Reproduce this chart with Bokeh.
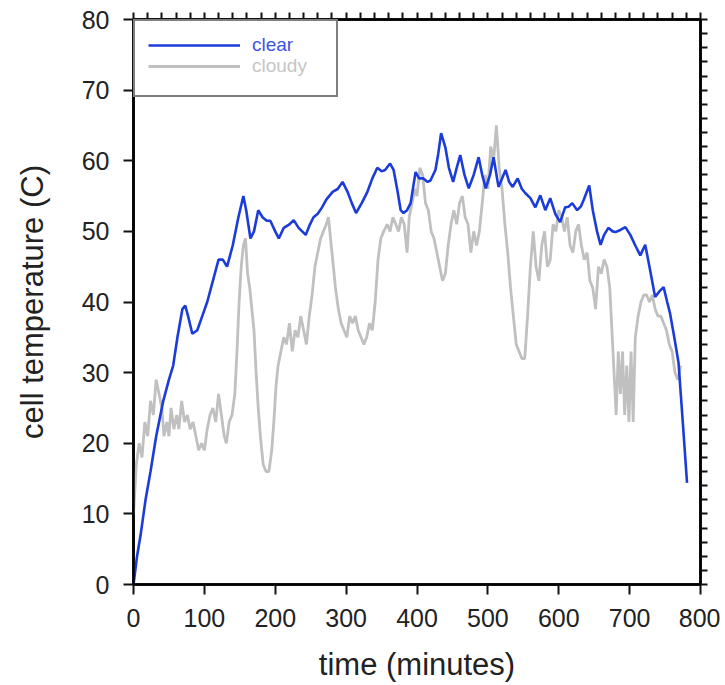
from bokeh.plotting import figure
from bokeh.models import Legend, LegendItem, Range1d, FixedTicker, LinearAxis
from bokeh.embed import file_html
from bokeh.resources import INLINE

# ---- data ----
clear_time = [0, 5, 10, 17, 24, 32, 42, 50, 56, 62, 69, 73, 77, 83, 90, 97, 104, 112, 120, 126,
              132, 140, 148, 155, 159, 165, 170, 176, 182, 188, 193, 200, 205, 212, 220, 226, 233,
              243, 249, 254, 260, 266, 272, 281, 288, 295, 302, 308, 314, 322, 330, 337, 344, 350,
              355, 362, 367, 372, 377, 381, 386, 391, 398, 403, 409, 415, 419, 426, 430, 434, 440,
              445, 451, 456, 461, 467, 473, 480, 487, 492, 497, 503, 508, 515, 520, 525, 530, 535,
              542, 548, 553, 560, 567, 574, 581, 588, 595, 602, 609, 614, 619, 626, 631, 635, 643,
              648, 654, 659, 664, 670, 676, 680, 687, 694, 701, 708, 715, 722, 728, 736, 742, 748,
              753, 757, 763, 769, 775, 781]
clear_temp = [0, 4, 7, 12, 16, 21, 26, 29, 31, 35, 39, 39.5, 38, 35.5, 36, 38, 40, 43, 46, 46,
              45, 48, 52, 55, 53, 49, 50, 53, 52, 51.5, 51.5, 50, 49, 50.5, 51, 51.6, 50.5,
              49.5, 51, 52, 52.5, 53.4, 54.5, 55.6, 56, 57, 55.6, 54, 52.6, 54, 55.6, 57.5, 59, 58.5,
              58.7, 59.6, 58.7, 56, 53, 52.6, 53, 54, 58.4, 57.5, 57.5, 57, 57.2, 58.7, 61, 63.9, 61.9,
              59, 57, 59, 60.8, 58, 56.1, 58, 60.5, 58, 56.1, 58, 60.5, 56.3, 57.5, 58.7, 57, 56.3,
              57.5, 56, 55.4, 54.7, 53.4, 55.1, 53, 54.7, 52.5, 51.3, 53.4, 53.5, 54, 53, 53.5, 54.4, 56.5,
              53, 50, 48.1, 49.5, 50.5, 50, 49.9, 50.2, 50.6, 49.5, 48, 46.6, 48.1, 45, 40.7, 41.5, 42.1,
              40, 38.4, 35, 31.4, 23, 14.4]

cloudy_time = [0, 4, 8, 12, 16, 20, 24, 28, 32, 36, 40, 43, 47, 50, 53, 57, 61, 64, 68, 72, 76, 80,
               84, 88, 92, 96, 100, 104, 108, 112, 116, 120, 124, 128, 131, 135, 139, 143, 146, 149,
               152, 155, 158, 161, 164, 167, 170, 173, 176, 179, 183, 187, 191, 195, 198, 201, 204,
               208, 212, 216, 220, 224, 228, 232, 236, 240, 244, 248, 252, 256, 260, 264, 268, 272,
               275, 278, 281, 285, 289, 293, 297, 301, 305, 309, 313, 317, 321, 325, 329, 333, 337,
               341, 345, 349, 353, 358, 362, 366, 370, 374, 378, 382, 386, 389, 393, 397, 400, 404,
               408, 412, 416, 420, 424, 428, 432, 436, 440, 444, 448, 452, 456, 460, 464, 468, 472,
               476, 480, 484, 488, 492, 496, 500, 504, 508, 512, 516, 520, 524, 528, 532, 536, 540,
               544, 548, 552, 556, 560, 564, 568, 572, 576, 580, 584, 588, 592, 596, 600, 604, 608,
               612, 616, 620, 624, 628, 632, 636, 640, 644, 648, 652, 656, 660, 664, 668, 672, 675,
               678, 681, 684, 687, 690, 693, 696, 699, 702, 705, 708, 712, 716, 720, 724, 728, 732,
               736, 740, 744, 748, 752, 756, 760, 764, 768, 772]
cloudy_temp = [10, 17, 20, 18, 23, 21, 26, 24, 29, 27, 25, 21, 23, 21, 25, 22, 24, 22, 26, 23, 24, 22,
               23, 21, 19, 20, 19, 22, 24, 25, 23, 27, 24, 21, 20, 23, 24, 27, 33, 40,
               45, 48, 49, 44, 42, 39, 36, 30, 25, 21, 17, 16, 16, 19, 23, 28, 31,
               33, 35, 34, 37, 33, 36, 35, 38, 36, 34, 38, 41, 45, 47, 49, 50, 51,
               52, 49, 46, 42, 39, 37, 36, 35, 38, 37, 38, 36, 35, 34, 35, 37, 36,
               40, 46, 49, 50, 51, 50, 52, 51, 50, 52, 51, 47, 52, 54, 56, 55, 59,
               58, 54, 53, 50, 49, 47, 45, 43, 44, 48, 51, 53, 51, 54, 55, 52, 51,
               47, 50, 48, 50, 54, 58, 56, 62, 60, 65, 59, 56, 51, 47, 42, 38, 34,
               33, 32, 32, 38, 45, 50, 45, 43, 48, 50, 45, 46, 51, 50, 53, 52, 50,
               52, 48, 47, 50, 51, 48, 46, 47, 43, 42, 39, 45, 44, 46, 45, 42, 36,
               30, 24, 33, 27, 33, 24, 31, 23, 33, 23, 35, 38, 40, 41, 41, 40, 41,
               39, 38, 38, 37, 36, 34, 33, 30, 29, 31]

x_ticks = [0, 100, 200, 300, 400, 500, 600, 700, 800]
y_ticks = [0, 10, 20, 30, 40, 50, 60, 70, 80]

BLUE = "#1c3cd9"
GRAY = "#c0c0c0"
FONT = "Liberation Sans"
TXT = "#222222"
TICK = "#111111"

W, H = 720, 684
BL, BR, BT, BB = 133, 20, 19, 99
FW, FH = W - BL - BR, H - BT - BB          # frame size in px
XMIN, XMAX = x_ticks[0], x_ticks[-1]
YMIN, YMAX = y_ticks[0], y_ticks[-1]

p = figure(width=W, height=H, output_backend="svg", toolbar_location=None,
           x_range=Range1d(XMIN, XMAX), y_range=Range1d(YMIN, YMAX),
           min_border_left=BL, min_border_right=BR, min_border_top=BT, min_border_bottom=BB)
p.grid.visible = False
p.outline_line_color = "black"
p.outline_line_width = 2.5


def minors(ticks, n=5):
    out = []
    for a, b in zip(ticks[:-1], ticks[1:]):
        out += [a + (b - a) * k / n for k in range(1, n)]
    return out


MAJ, MIN = 10, 5

r_cloudy = p.line(cloudy_time, cloudy_temp, line_color=GRAY, line_width=2.8)
r_clear = p.line(clear_time, clear_temp, line_color=BLUE, line_width=2.6)

# ---- labelled axes (bottom, left) ----
p.xaxis.ticker = FixedTicker(ticks=x_ticks, num_minor_ticks=5)
p.yaxis.ticker = FixedTicker(ticks=y_ticks, num_minor_ticks=5)
for ax in (p.xaxis[0], p.yaxis[0]):
    ax.axis_line_color = "black"
    ax.axis_line_width = 2.5
    ax.major_tick_line_color = TICK
    ax.minor_tick_line_color = TICK
    ax.major_tick_line_width = 2
    ax.minor_tick_line_width = 2
    ax.major_tick_in = 0
    ax.major_tick_out = MAJ
    ax.minor_tick_in = 0
    ax.minor_tick_out = MIN
    ax.major_label_text_font = FONT
    ax.major_label_text_font_size = "25px"
    ax.major_label_text_color = TXT
    ax.axis_label_text_font = FONT
    ax.axis_label_text_font_size = "31px"
    ax.axis_label_text_font_style = "normal"
    ax.axis_label_text_color = TXT
p.xaxis.axis_label = "time (minutes)"
p.yaxis.axis_label = "cell temperature (C)"
p.xaxis.major_label_standoff = 24 - MAJ
p.yaxis.major_label_standoff = 24 - MAJ
p.xaxis.axis_label_standoff = 17
p.yaxis.axis_label_standoff = 29

# ---- mirrored tick marks on top and right (no labels) ----
ax_top = LinearAxis(ticker=FixedTicker(ticks=[], minor_ticks=x_ticks + minors(x_ticks)))
ax_right = LinearAxis(ticker=FixedTicker(ticks=[], minor_ticks=y_ticks + minors(y_ticks)))
for ax in (ax_top, ax_right):
    ax.axis_line_color = "black"
    ax.axis_line_width = 2.5
    ax.major_tick_in = 0
    ax.major_tick_out = 0
    ax.minor_tick_in = 0
    ax.minor_tick_out = 7
    ax.minor_tick_line_color = TICK
    ax.minor_tick_line_width = 2
    ax.major_label_standoff = 0
p.add_layout(ax_top, "above")
p.add_layout(ax_right, "right")

# ---- legend (box + per-item coloured labels) ----
P = 15
R = 22
common = dict(padding=P, spacing=0, glyph_width=92, glyph_height=R, label_height=R,
              label_width=67, label_standoff=12, label_text_font=FONT,
              label_text_font_size="19px", margin=0)

leg_box = Legend(items=[LegendItem(label=" ", renderers=[]),
                        LegendItem(label=" ", renderers=[])],
                 location="top_left", border_line_color="black", border_line_width=2,
                 background_fill_color="white", background_fill_alpha=1, **common)
leg_clear = Legend(items=[LegendItem(label="clear", renderers=[r_clear])],
                   location="top_left", border_line_alpha=0, background_fill_alpha=0,
                   label_text_color="#3f52e3", **common)
leg_cloudy = Legend(items=[LegendItem(label="cloudy", renderers=[r_cloudy])],
                    location=(0, FH - 2 * R - 2 * P), border_line_alpha=0,
                    background_fill_alpha=0, label_text_color="#c6c6c6", **common)
p.add_layout(leg_box)
p.add_layout(leg_clear)
p.add_layout(leg_cloudy)

open("out.html", "w").write(file_html(p, INLINE))
